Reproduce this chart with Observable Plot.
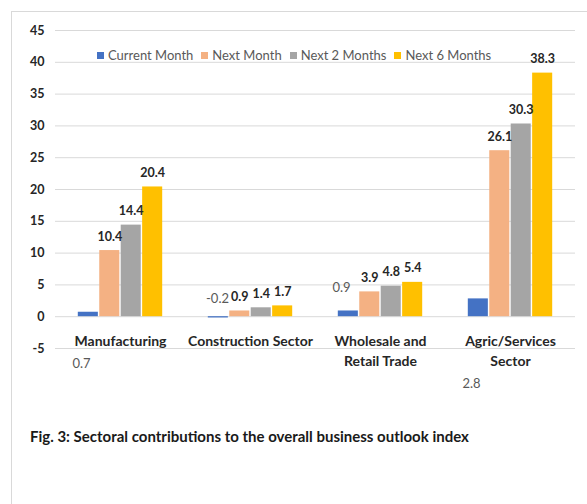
<!DOCTYPE html>
<html>
<head>
<meta charset="utf-8">
<script src="https://cdn.jsdelivr.net/npm/d3@7"></script>
<script src="https://cdn.jsdelivr.net/npm/@observablehq/plot@0.6"></script>
<style>
  html, body { margin: 0; padding: 0; background: #fff; }
  #wrap { position: relative; width: 587px; height: 504px; overflow: hidden; font-family: Lato, "Open Sans", sans-serif; }
  #frame { position: absolute; left: 11px; top: 11px; width: 700px; height: 600px; border-top: 1px solid #d9d9d9; border-left: 1px solid #d9d9d9; }
  #chart { position: absolute; left: 0; top: 0; }
  #legend { position: absolute; left: 97px; top: 47px; display: flex; align-items: center; font-size: 13px; color: #595959; white-space: nowrap; }
  #legend .item { display: flex; align-items: center; margin-right: 8px; }
  #legend .sw { width: 7px; height: 7px; margin-right: 4px; }
  #caption { position: absolute; left: 30px; top: 427px; font-size: 15px; font-weight: bold; color: #1a1a1a; white-space: nowrap; }
</style>
</head>
<body>
<div id="wrap">
  <div id="frame"></div>
  <div id="chart"></div>
  <div id="legend"></div>
  <div id="caption"></div>
</div>
<script>
const sectors = ["Manufacturing", "Construction Sector", "Wholesale and\nRetail Trade", "Agric/Services\nSector"];
const seriesNames = ["Current Month", "Next Month", "Next 2 Months", "Next 6 Months"];
const seriesColors = ["#4472C4", "#F4B183", "#A5A5A5", "#FFC000"];
const currentMonth = [0.7, -0.2, 0.9, 2.8];
const nextMonth = [10.4, 0.9, 3.9, 26.1];
const next2Months = [14.4, 1.4, 4.8, 30.3];
const next6Months = [20.4, 1.7, 5.4, 38.3];
const yTicks = [-5, 0, 5, 10, 15, 20, 25, 30, 35, 40, 45];
const captionText = "Fig. 3: Sectoral contributions to the overall business outlook index";

const seriesValues = [currentMonth, nextMonth, next2Months, next6Months];
const data = [];
seriesValues.forEach((vals, si) => {
  vals.forEach((v, ci) => data.push({sector: sectors[ci], series: seriesNames[si], si, value: v}));
});

const bandW = 85.8;
const slot = bandW / 4;
const gap = 0.8;

const barMarks = seriesNames.map((s, i) =>
  Plot.barY(data.filter(d => d.series === s), {
    x: "sector", y: "value", fill: seriesColors[i],
    insetLeft: i * slot + gap, insetRight: (3 - i) * slot + gap
  })
);
const labelMarks = seriesNames.slice(1).map((s, j) => {
  const i = j + 1;
  return Plot.text(data.filter(d => d.series === s), {
    x: "sector", y: "value", text: d => d.value.toFixed(1),
    dx: (i - 1.5) * slot, dy: -14, fontWeight: "bold", fontSize: 12.5, fill: "#262626"
  });
});
// Current-month labels sit at odd offsets in the original
const curOffsets = [[-39, 52], [-33, -19], [-39, -23], [-39, 85]];
const curMarks = curOffsets.map(([dx, dy], ci) =>
  Plot.text(data.filter(d => d.series === seriesNames[0] && d.sector === sectors[ci]), {
    x: "sector", y: "value", text: d => d.value.toFixed(1),
    dx, dy, fontSize: 13, fill: "#595959"
  })
);

const chart = Plot.plot({
  width: 587,
  height: 400,
  marginLeft: 55,
  marginRight: 12,
  marginTop: 30,
  marginBottom: 52,
  style: {fontFamily: "Lato, 'Open Sans', sans-serif", background: "transparent"},
  x: {domain: sectors, paddingInner: 0.34, paddingOuter: 0.17, axis: null, label: null},
  y: {domain: [-5, 45], axis: null, label: null},
  marks: [
    Plot.gridY(yTicks, {stroke: "#d9d9d9", strokeOpacity: 1, strokeWidth: 1}),
    Plot.axisY(yTicks, {tickSize: 0, tickPadding: 11, fontWeight: "bold", fontSize: 12.5, fill: "#262626", tickFormat: d => d, label: null}),
    ...barMarks,
    ...labelMarks,
    ...curMarks,
    Plot.text(sectors, {x: d => d, y: () => 0, text: d => d, dy: 15, lineAnchor: "top", lineHeight: 1.45, fontWeight: "bold", fontSize: 14, fill: "#262626"})
  ]
});
document.getElementById("chart").appendChild(chart);

const legend = document.getElementById("legend");
seriesNames.forEach((s, i) => {
  const it = document.createElement("div");
  it.className = "item";
  const sw = document.createElement("div");
  sw.className = "sw";
  sw.style.background = seriesColors[i];
  const t = document.createElement("span");
  t.textContent = s;
  it.appendChild(sw); it.appendChild(t);
  legend.appendChild(it);
});
document.getElementById("caption").textContent = captionText;
</script>
</body>
</html>
